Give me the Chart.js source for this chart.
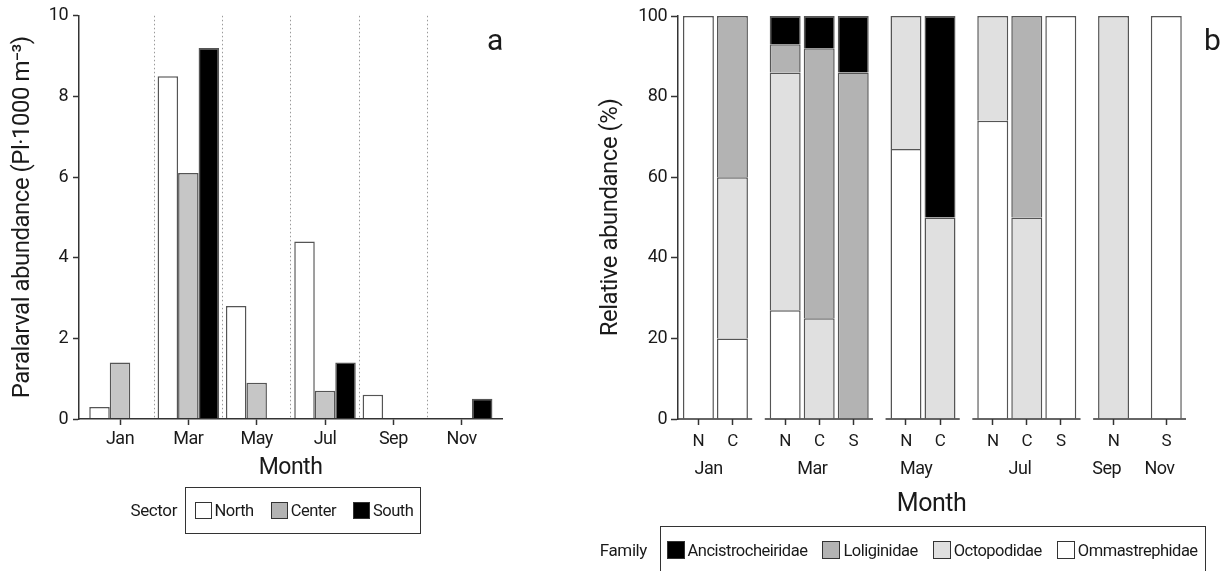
<!DOCTYPE html>
<html>
<head>
<meta charset="utf-8">
<script src="https://cdn.jsdelivr.net/npm/chart.js@4.4.1/dist/chart.umd.min.js"></script>
<style>
  html, body { margin: 0; padding: 0; background: #fff; width: 1222px; height: 571px; overflow: hidden; }
  body { position: relative; font-family: Roboto, 'Liberation Sans', sans-serif; color: #1a1a1a; }
  #abundance { position: absolute; left: 0; top: 0; }
  #relative { position: absolute; left: 560px; top: 0; }
  .panel { position: absolute; top: 25px; font-size: 30px; line-height: 30px; }
  .legend-title { position: absolute; text-align: right; line-height: 22px; font-size: 17px; letter-spacing: -0.4px; }
  .legend { position: absolute; box-sizing: border-box; border: 1.5px solid #333; display: flex; align-items: center; white-space: nowrap; font-size: 16.5px; letter-spacing: -0.5px; }
  .legend .item { display: flex; align-items: center; }
  .legend .swatch { box-sizing: border-box; border: 1.5px solid #333; }
  #sector-legend { left: 185px; top: 487px; width: 236px; height: 47px; padding-left: 8.5px; }
  #sector-legend .swatch { width: 17px; height: 17px; margin-right: 3px; }
  #sector-legend .item { margin-right: 17px; }
  #family-legend { left: 660px; top: 526px; width: 546px; height: 48px; padding-left: 5.5px; }
  #family-legend .swatch { width: 18px; height: 18px; margin-right: 3px; }
  #family-legend .item { margin-right: 15px; }
</style>
</head>
<body>
<canvas id="abundance" width="545" height="571"></canvas>
<canvas id="relative" width="662" height="571"></canvas>
<div class="panel" style="left:487px">a</div>
<div class="panel" style="left:1204px">b</div>
<div class="legend-title" style="left:97px;width:80px;top:499px">Sector</div>
<div class="legend" id="sector-legend"></div>
<div class="legend-title" style="left:567px;width:80px;top:539px">Family</div>
<div class="legend" id="family-legend"></div>
<script>
// panel a: paralarval abundance per sector
var months = ['Jan', 'Mar', 'May', 'Jul', 'Sep', 'Nov'];
var northAbundance = [0.3, 8.5, 2.8, 4.4, 0.6, null];
var centerAbundance = [1.4, 6.1, 0.9, 0.7, null, null];
var southAbundance = [null, 9.2, null, 1.4, null, 0.5];
var abundanceTicks = [0, 2, 4, 6, 8, 10];

// panel b: relative abundance per family, one bar per month/sector sample
var barMonths = ['Jan', 'Jan', 'Mar', 'Mar', 'Mar', 'May', 'May', 'Jul', 'Jul', 'Jul', 'Sep', 'Nov'];
var barSectors = ['N', 'C', 'N', 'C', 'S', 'N', 'C', 'N', 'C', 'S', 'N', 'S'];
var ommastrephidae = [100, 20, 27, null, null, 67, null, 74, null, 100, null, 100];
var octopodidae = [null, 40, 59, 25, null, 33, 50, 26, 50, null, 100, null];
var loliginidae = [null, 40, 7, 67, 86, null, null, null, 50, null, null, null];
var ancistrocheiridae = [null, null, 7, 8, 14, null, 50, null, null, null, null, null];
var percentTicks = [0, 20, 40, 60, 80, 100];
// months that share one stretch of x axis line
var axisRuns = [['Jan'], ['Mar'], ['May'], ['Jul'], ['Sep', 'Nov']];

var GROUP_GAP = 0.55;
var INK = '#333';

Chart.defaults.font.family = "Roboto, 'Liberation Sans', sans-serif";
Chart.defaults.color = '#1a1a1a';

// the original uses a condensed face; tighten the canvas text a little
var tightText = {
  id: 'tightText',
  beforeUpdate: function (chart) { chart.ctx.letterSpacing = '-0.5px'; },
  beforeDraw: function (chart) { chart.ctx.letterSpacing = '-0.5px'; }
};

function toPoints(values, xs) {
  return values
    .map(function (v, i) { return { x: xs[i], y: v }; })
    .filter(function (p) { return p.y !== null; });
}

function setTicks(list) {
  return function (scale) {
    scale.ticks = list.map(function (v) { return { value: v }; });
  };
}

function buildLegend(chart, el, reverse) {
  var sets = chart.data.datasets.slice();
  if (reverse) sets.reverse();
  sets.forEach(function (ds) {
    var item = document.createElement('span');
    item.className = 'item';
    var sw = document.createElement('span');
    sw.className = 'swatch';
    sw.style.background = ds.legendColor || ds.backgroundColor;
    var txt = document.createElement('span');
    txt.textContent = ds.label;
    item.appendChild(sw);
    item.appendChild(txt);
    el.appendChild(item);
  });
}

// ---------- panel a ----------
var monthIndex = months.map(function (_m, i) { return i; });
var separators = months.slice(1).map(function (_m, i) { return i + 0.5; });

var abundanceChart = new Chart(document.getElementById('abundance'), {
  type: 'bar',
  data: {
    datasets: [
      { label: 'North', data: toPoints(northAbundance, monthIndex), backgroundColor: '#ffffff', xAxisID: 'x' },
      { label: 'Center', data: toPoints(centerAbundance, monthIndex), backgroundColor: '#c6c6c6', legendColor: '#b3b3b3', xAxisID: 'x' },
      { label: 'South', data: toPoints(southAbundance, monthIndex), backgroundColor: '#000000', xAxisID: 'x' }
    ]
  },
  plugins: [tightText],
  options: {
    responsive: false,
    animation: false,
    events: [],
    layout: { padding: { top: 14, right: 43, left: 0, bottom: 0 } },
    datasets: { bar: { categoryPercentage: 0.9, barPercentage: 1, borderWidth: 1.5, borderColor: '#555' } },
    plugins: { legend: { display: false }, tooltip: { enabled: false } },
    scales: {
      x: {
        type: 'linear', axis: 'x', position: 'bottom', weight: 1,
        min: -0.6, max: 5.59, offset: false,
        afterBuildTicks: setTicks(monthIndex),
        ticks: { callback: function (v, i) { return months[i]; }, font: { size: 18 }, padding: 4, autoSkip: false, maxRotation: 0 },
        grid: { drawOnChartArea: false, offset: false, tickLength: 6, tickWidth: 1.5, tickColor: INK },
        border: { color: INK, width: 1.5, z: 1 },
        title: { display: true, text: 'Month', font: { size: 23 }, padding: { top: 0, bottom: 89 } },
        afterFit: function (s) { s.height = 152; }
      },
      xsep: {
        type: 'linear', axis: 'x', position: 'bottom', weight: 2,
        min: -0.6, max: 5.59, offset: false,
        afterBuildTicks: setTicks(separators),
        ticks: { display: false },
        grid: { color: '#9a9a9a', lineWidth: 1, drawTicks: false, offset: false },
        border: { display: false, dash: [1.5, 2.5] },
        afterFit: function (s) { s.height = 0; }
      },
      y: {
        min: 0, max: 10,
        afterBuildTicks: setTicks(abundanceTicks),
        ticks: { font: { size: 18 }, padding: 5 },
        grid: { drawOnChartArea: false, tickLength: 6, tickWidth: 1.5, tickColor: INK },
        border: { color: INK, width: 1.5 },
        title: { display: true, text: 'Paralarval abundance (Pl\u00b71000 m\u207b\u00b3)', font: { size: 24 }, padding: { top: 9, bottom: 0 } },
        afterFit: function (s) { s.width = 79; }
      }
    }
  }
});
buildLegend(abundanceChart, document.getElementById('sector-legend'), false);

// ---------- panel b ----------
var monthOrder = barMonths.filter(function (m, i) { return barMonths.indexOf(m) === i; });
var barPositions = barMonths.map(function (m, i) { return i + monthOrder.indexOf(m) * GROUP_GAP; });
var monthCenters = monthOrder.map(function (m) {
  var p = barPositions.filter(function (_p, i) { return barMonths[i] === m; });
  return (p[0] + p[p.length - 1]) / 2 - 0.2;
});

var axisRunsPlugin = {
  id: 'axisRuns',
  afterDatasetsDraw: function (chart) {
    var xs = chart.scales.x;
    var ctx = chart.ctx;
    var y = chart.chartArea.bottom;
    ctx.save();
    ctx.strokeStyle = INK;
    ctx.lineWidth = 1.5;
    axisRuns.forEach(function (run) {
      var p = barPositions.filter(function (_p, i) { return run.indexOf(barMonths[i]) !== -1; });
      ctx.beginPath();
      ctx.moveTo(xs.getPixelForValue(p[0] - 0.6), y);
      ctx.lineTo(xs.getPixelForValue(p[p.length - 1] + 0.58), y);
      ctx.stroke();
    });
    ctx.restore();
  }
};

var relativeChart = new Chart(document.getElementById('relative'), {
  type: 'bar',
  data: {
    datasets: [
      { label: 'Ommastrephidae', data: toPoints(ommastrephidae, barPositions), backgroundColor: '#ffffff', xAxisID: 'x' },
      { label: 'Octopodidae', data: toPoints(octopodidae, barPositions), backgroundColor: '#e0e0e0', xAxisID: 'x' },
      { label: 'Loliginidae', data: toPoints(loliginidae, barPositions), backgroundColor: '#b3b3b3', xAxisID: 'x' },
      { label: 'Ancistrocheiridae', data: toPoints(ancistrocheiridae, barPositions), backgroundColor: '#000000', xAxisID: 'x' }
    ]
  },
  plugins: [tightText, axisRunsPlugin],
  options: {
    responsive: false,
    animation: false,
    events: [],
    layout: { padding: { top: 16, right: 37, left: 0, bottom: 0 } },
    datasets: { bar: { categoryPercentage: 1, barPercentage: 0.91, borderWidth: 1.5, borderColor: '#555' } },
    plugins: { legend: { display: false }, tooltip: { enabled: false } },
    scales: {
      x: {
        type: 'linear', axis: 'x', position: 'bottom', weight: 1, stacked: true,
        min: -0.6, max: 14.3, offset: false,
        afterBuildTicks: setTicks(barPositions),
        ticks: { callback: function (v, i) { return barSectors[i]; }, font: { size: 17 }, padding: 7, autoSkip: false, maxRotation: 0 },
        grid: { drawOnChartArea: false, offset: false, tickLength: 6, tickWidth: 1.5, tickColor: INK },
        border: { display: false },
        afterFit: function (s) { s.height = 32; }
      },
      xm: {
        type: 'linear', axis: 'x', position: 'bottom', weight: 2,
        min: -0.6, max: 14.3, offset: false,
        afterBuildTicks: setTicks(monthCenters),
        ticks: { callback: function (v, i) { return monthOrder[i]; }, font: { size: 18 }, padding: 8, autoSkip: false, maxRotation: 0 },
        grid: { display: false, drawTicks: false },
        border: { display: false },
        title: { display: true, text: 'Month', font: { size: 25 }, padding: { top: 0, bottom: 51 } },
        afterFit: function (s) { s.height = 120; }
      },
      y: {
        stacked: true, min: 0, max: 100,
        afterBuildTicks: setTicks(percentTicks),
        ticks: { font: { size: 18 }, padding: 4 },
        grid: { drawOnChartArea: false, tickLength: 7, tickWidth: 1.5, tickColor: INK },
        border: { color: INK, width: 1.5 },
        title: { display: true, text: 'Relative abundance (%)', font: { size: 24 }, padding: { top: 37, bottom: 0 } },
        afterFit: function (s) { s.width = 118; }
      }
    }
  }
});
buildLegend(relativeChart, document.getElementById('family-legend'), true);
</script>
</body>
</html>
